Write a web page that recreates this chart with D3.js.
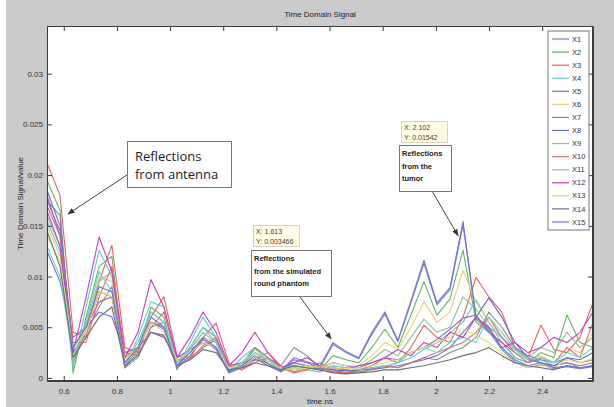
<!DOCTYPE html>
<html>
<head>
<meta charset="utf-8">
<script src="https://cdn.jsdelivr.net/npm/d3@7"></script>
<style>
  body { margin: 0; background: #ffffff; }
  svg { display: block; }
  text { font-family: "Liberation Sans", Arial, sans-serif; }
</style>
</head>
<body>
<div id="chart"></div>
<script>

/*******************************/
/*            Data             */
/*******************************/
const times = [0.537, 0.586, 0.635, 0.684, 0.733, 0.781, 0.830, 0.879, 0.928, 0.977,
  1.026, 1.075, 1.124, 1.173, 1.221, 1.270, 1.319, 1.368, 1.417, 1.466,
  1.515, 1.564, 1.613, 1.662, 1.710, 1.759, 1.808, 1.857, 1.906, 1.955,
  2.004, 2.053, 2.102, 2.151, 2.199, 2.248, 2.297, 2.346, 2.395, 2.444,
  2.493, 2.542, 2.591];

const seriesNames = ["X1", "X2", "X3", "X4", "X5", "X6", "X7", "X8", "X9", "X10", "X11", "X12", "X13", "X14", "X15"];
const seriesColors = ["#7b7bd2", "#5cb85c", "#e06464", "#5ccccc", "#a060c8", "#e8cf78", "#8a8a8a",
  "#6a6ad8", "#8cc08c", "#e07070", "#66d0d8", "#c83cc8", "#dede66", "#6e6e6e", "#7070d8"];

const x1 = [0.0175, 0.0145, 0.0025, 0.0045, 0.0085, 0.0080, 0.0012, 0.0028, 0.0055, 0.0048, 0.0010, 0.0022, 0.0038, 0.0028, 0.0005, 0.0010, 0.0020, 0.0012, 0.0006, 0.0018, 0.0015, 0.0010, 0.0033, 0.0025, 0.0019, 0.0043, 0.0063, 0.0036, 0.0074, 0.0113, 0.0072, 0.0087, 0.0151, 0.0058, 0.0046, 0.0028, 0.0016, 0.0010, 0.0013, 0.0009, 0.0011, 0.0009, 0.0011];
const x2 = [0.0195, 0.0165, 0.0005, 0.0060, 0.0110, 0.0120, 0.0010, 0.0025, 0.0070, 0.0060, 0.0008, 0.0030, 0.0050, 0.0040, 0.0005, 0.0015, 0.0030, 0.0015, 0.0006, 0.0012, 0.0010, 0.0008, 0.0022, 0.0018, 0.0015, 0.0030, 0.0048, 0.0030, 0.0062, 0.0095, 0.0062, 0.0078, 0.0126, 0.0055, 0.0045, 0.0035, 0.0020, 0.0015, 0.0025, 0.0020, 0.0062, 0.0035, 0.0030];
const x3 = [0.0212, 0.0180, 0.0045, 0.0040, 0.0095, 0.0131, 0.0030, 0.0025, 0.0060, 0.0080, 0.0022, 0.0020, 0.0040, 0.0054, 0.0015, 0.0008, 0.0018, 0.0025, 0.0012, 0.0006, 0.0010, 0.0015, 0.0008, 0.0005, 0.0008, 0.0012, 0.0020, 0.0015, 0.0030, 0.0052, 0.0040, 0.0035, 0.0060, 0.0099, 0.0080, 0.0065, 0.0030, 0.0020, 0.0052, 0.0028, 0.0025, 0.0040, 0.0074];
const x4 = [0.0155, 0.0125, 0.0010, 0.0070, 0.0126, 0.0100, 0.0010, 0.0040, 0.0075, 0.0070, 0.0010, 0.0035, 0.0060, 0.0040, 0.0006, 0.0020, 0.0030, 0.0020, 0.0008, 0.0015, 0.0012, 0.0008, 0.0010, 0.0008, 0.0006, 0.0008, 0.0010, 0.0015, 0.0020, 0.0028, 0.0035, 0.0045, 0.0055, 0.0077, 0.0055, 0.0035, 0.0020, 0.0015, 0.0018, 0.0012, 0.0015, 0.0010, 0.0012];
const x5 = [0.0180, 0.0140, 0.0030, 0.0050, 0.0075, 0.0080, 0.0020, 0.0030, 0.0055, 0.0050, 0.0015, 0.0025, 0.0035, 0.0030, 0.0010, 0.0012, 0.0020, 0.0015, 0.0008, 0.0015, 0.0012, 0.0010, 0.0015, 0.0012, 0.0010, 0.0015, 0.0020, 0.0018, 0.0025, 0.0030, 0.0038, 0.0048, 0.0059, 0.0062, 0.0045, 0.0035, 0.0025, 0.0018, 0.0015, 0.0012, 0.0015, 0.0012, 0.0015];
const x6 = [0.0150, 0.0120, 0.0020, 0.0050, 0.0100, 0.0095, 0.0020, 0.0035, 0.0060, 0.0050, 0.0015, 0.0030, 0.0040, 0.0035, 0.0010, 0.0015, 0.0028, 0.0018, 0.0008, 0.0010, 0.0012, 0.0010, 0.0015, 0.0012, 0.0012, 0.0022, 0.0035, 0.0028, 0.0050, 0.0075, 0.0055, 0.0065, 0.0106, 0.0075, 0.0055, 0.0040, 0.0025, 0.0018, 0.0022, 0.0015, 0.0030, 0.0025, 0.0045];
const x7 = [0.0175, 0.0160, 0.0015, 0.0045, 0.0070, 0.0090, 0.0010, 0.0020, 0.0050, 0.0055, 0.0010, 0.0020, 0.0030, 0.0038, 0.0008, 0.0010, 0.0030, 0.0020, 0.0012, 0.0030, 0.0022, 0.0010, 0.0006, 0.0005, 0.0008, 0.0010, 0.0012, 0.0010, 0.0015, 0.0020, 0.0018, 0.0025, 0.0030, 0.0040, 0.0065, 0.0050, 0.0030, 0.0022, 0.0018, 0.0015, 0.0020, 0.0015, 0.0018];
const x8 = [0.0125, 0.0095, 0.0040, 0.0050, 0.0065, 0.0060, 0.0025, 0.0030, 0.0045, 0.0040, 0.0020, 0.0028, 0.0035, 0.0030, 0.0012, 0.0015, 0.0018, 0.0015, 0.0010, 0.0012, 0.0010, 0.0009, 0.0008, 0.0007, 0.0008, 0.0009, 0.0010, 0.0012, 0.0015, 0.0018, 0.0022, 0.0030, 0.0045, 0.0060, 0.0079, 0.0060, 0.0035, 0.0020, 0.0015, 0.0012, 0.0020, 0.0018, 0.0025];
const x9 = [0.0160, 0.0130, 0.0015, 0.0055, 0.0095, 0.0105, 0.0015, 0.0030, 0.0065, 0.0055, 0.0012, 0.0028, 0.0045, 0.0035, 0.0008, 0.0012, 0.0025, 0.0015, 0.0008, 0.0010, 0.0008, 0.0006, 0.0012, 0.0010, 0.0010, 0.0018, 0.0028, 0.0022, 0.0040, 0.0058, 0.0045, 0.0050, 0.0080, 0.0068, 0.0050, 0.0040, 0.0028, 0.0020, 0.0030, 0.0025, 0.0045, 0.0030, 0.0040];
const x10 = [0.0170, 0.0140, 0.0035, 0.0035, 0.0080, 0.0110, 0.0025, 0.0022, 0.0050, 0.0065, 0.0018, 0.0018, 0.0032, 0.0040, 0.0012, 0.0008, 0.0015, 0.0020, 0.0010, 0.0005, 0.0008, 0.0012, 0.0006, 0.0005, 0.0006, 0.0008, 0.0012, 0.0010, 0.0015, 0.0020, 0.0025, 0.0030, 0.0035, 0.0045, 0.0060, 0.0040, 0.0025, 0.0015, 0.0020, 0.0015, 0.0030, 0.0020, 0.0055];
const x11 = [0.0130, 0.0100, 0.0020, 0.0055, 0.0105, 0.0085, 0.0015, 0.0035, 0.0065, 0.0055, 0.0015, 0.0030, 0.0050, 0.0035, 0.0008, 0.0015, 0.0025, 0.0018, 0.0010, 0.0012, 0.0010, 0.0010, 0.0012, 0.0010, 0.0008, 0.0010, 0.0012, 0.0015, 0.0025, 0.0030, 0.0025, 0.0035, 0.0040, 0.0035, 0.0060, 0.0045, 0.0028, 0.0018, 0.0020, 0.0015, 0.0025, 0.0020, 0.0030];
const x12 = [0.0165, 0.0130, 0.0025, 0.0080, 0.0139, 0.0105, 0.0020, 0.0045, 0.0097, 0.0070, 0.0020, 0.0040, 0.0065, 0.0045, 0.0012, 0.0025, 0.0045, 0.0025, 0.0010, 0.0015, 0.0020, 0.0012, 0.0010, 0.0008, 0.0012, 0.0015, 0.0020, 0.0028, 0.0022, 0.0035, 0.0030, 0.0045, 0.0040, 0.0060, 0.0050, 0.0030, 0.0035, 0.0025, 0.0030, 0.0040, 0.0035, 0.0045, 0.0065];
const x13 = [0.0140, 0.0115, 0.0030, 0.0045, 0.0085, 0.0080, 0.0018, 0.0030, 0.0055, 0.0045, 0.0018, 0.0025, 0.0035, 0.0030, 0.0010, 0.0012, 0.0020, 0.0015, 0.0010, 0.0008, 0.0010, 0.0012, 0.0010, 0.0009, 0.0010, 0.0012, 0.0015, 0.0018, 0.0025, 0.0030, 0.0035, 0.0040, 0.0048, 0.0042, 0.0035, 0.0025, 0.0015, 0.0010, 0.0012, 0.0010, 0.0018, 0.0015, 0.0020];
const x14 = [0.0145, 0.0110, 0.0020, 0.0040, 0.0060, 0.0070, 0.0012, 0.0022, 0.0045, 0.0042, 0.0012, 0.0018, 0.0028, 0.0025, 0.0008, 0.0010, 0.0015, 0.0012, 0.0008, 0.0012, 0.0010, 0.0008, 0.0005, 0.0004, 0.0005, 0.0006, 0.0008, 0.0008, 0.0010, 0.0012, 0.0015, 0.0018, 0.0022, 0.0025, 0.0030, 0.0022, 0.0015, 0.0012, 0.0010, 0.0008, 0.0012, 0.0010, 0.0012];
const x15 = [0.0185, 0.0150, 0.0030, 0.0050, 0.0090, 0.0085, 0.0015, 0.0030, 0.0060, 0.0050, 0.0012, 0.0025, 0.0040, 0.0030, 0.0006, 0.0012, 0.0022, 0.0014, 0.0007, 0.0020, 0.0016, 0.0012, 0.003466, 0.0026, 0.0020, 0.0045, 0.0065, 0.0037, 0.0076, 0.0116, 0.0074, 0.0089, 0.01542, 0.0060, 0.0048, 0.0030, 0.0018, 0.0012, 0.0015, 0.0010, 0.0012, 0.0010, 0.0012];

const xTicks = [0.6, 0.8, 1, 1.2, 1.4, 1.6, 1.8, 2, 2.2, 2.4];
const yTicks = [0, 0.005, 0.01, 0.015, 0.02, 0.025, 0.03];

const dataTips = [
  {x: 1.613, y: 0.003466, label: ["X: 1.613", "Y: 0.003466"]},
  {x: 2.102, y: 0.01542, label: ["X: 2.102", "Y: 0.01542"]}
];

/*******************************/
/*    Declare the constants    */
/*******************************/
const width = 614;
const height = 407;
const plot = {left: 47, right: 593, top: 26, bottom: 381};

const series = [x1, x2, x3, x4, x5, x6, x7, x8, x9, x10, x11, x12, x13, x14, x15]
  .map((values, i) => ({name: seriesNames[i], color: seriesColors[i], values}));

/*******************************/
/*    Append the containers    */
/*******************************/
const svg = d3.select("#chart")
  .append("svg")
    .attr("width", width)
    .attr("height", height);

// grey figure background
svg.append("rect")
  .attr("x", 6).attr("y", 0)
  .attr("width", width - 6).attr("height", height)
  .attr("fill", "#cbcbcb");

// white axes area
svg.append("rect")
  .attr("x", plot.left).attr("y", plot.top)
  .attr("width", plot.right - plot.left).attr("height", plot.bottom - plot.top)
  .attr("fill", "#ffffff");

/****************************/
/*    Declare the scales    */
/****************************/
const xScale = d3.scaleLinear()
  .domain([times[0], times[times.length - 1]])
  .range([plot.left, plot.right]);

const yScale = d3.scaleLinear()
  .domain([-0.0003, 0.0347])
  .range([plot.bottom, plot.top]);

/****************************/
/*        The lines         */
/****************************/
const lineGenerator = d3.line()
  .x((d, i) => xScale(times[i]))
  .y(d => yScale(d));

const clip = svg.append("clipPath").attr("id", "plot-clip")
  .append("rect")
    .attr("x", plot.left).attr("y", plot.top)
    .attr("width", plot.right - plot.left).attr("height", plot.bottom - plot.top);

svg.append("g")
    .attr("clip-path", "url(#plot-clip)")
  .selectAll("path")
  .data(series)
  .join("path")
    .attr("d", d => lineGenerator(d.values))
    .attr("fill", "none")
    .attr("stroke", d => d.color)
    .attr("stroke-width", 1.1)
    .attr("stroke-linejoin", "round");

/****************************/
/*          Axes            */
/****************************/
const axisColor = "#3c3c3c";
const fmt = d => String(d);

const bottomAxis = d3.axisBottom(xScale).tickValues(xTicks).tickFormat(fmt).tickSizeInner(-5).tickSizeOuter(0).tickPadding(7);
const topAxis = d3.axisTop(xScale).tickValues(xTicks).tickFormat("").tickSizeInner(-5).tickSizeOuter(0);
const leftAxis = d3.axisLeft(yScale).tickValues(yTicks).tickFormat(fmt).tickSizeInner(-5).tickSizeOuter(0).tickPadding(4);
const rightAxis = d3.axisRight(yScale).tickValues(yTicks).tickFormat("").tickSizeInner(-5).tickSizeOuter(0);

const axes = [
  {axis: bottomAxis, t: `translate(0, ${plot.bottom})`},
  {axis: topAxis, t: `translate(0, ${plot.top})`},
  {axis: leftAxis, t: `translate(${plot.left}, 0)`},
  {axis: rightAxis, t: `translate(${plot.right}, 0)`}
];
axes.forEach(a => {
  const g = svg.append("g")
    .attr("transform", a.t)
    .call(a.axis);
  g.select(".domain").attr("stroke", axisColor);
  g.selectAll(".tick line").attr("stroke", axisColor);
  g.selectAll(".tick text")
    .attr("fill", "#333")
    .style("font-size", "8px")
    .style("font-family", "'Liberation Sans Narrow', 'Liberation Sans', sans-serif");
});

// box frame
svg.append("rect")
  .attr("x", plot.left + 0.5).attr("y", plot.top + 0.5)
  .attr("width", plot.right - plot.left - 1).attr("height", plot.bottom - plot.top - 1)
  .attr("fill", "none")
  .attr("stroke", axisColor);

// titles
svg.append("text")
  .text("Time Domain Signal")
  .attr("x", (plot.left + plot.right) / 2)
  .attr("y", 17)
  .attr("text-anchor", "middle")
  .attr("fill", "#222")
  .style("font-size", "8px")
  .style("font-family", "'Liberation Sans Narrow', 'Liberation Sans', sans-serif");

svg.append("text")
  .text("time.ns")
  .attr("x", (plot.left + plot.right) / 2)
  .attr("y", 404)
  .attr("text-anchor", "middle")
  .attr("fill", "#222")
  .style("font-size", "8px")
  .style("font-family", "'Liberation Sans Narrow', 'Liberation Sans', sans-serif");

svg.append("text")
  .text("Time Domain Signal/value")
  .attr("transform", `translate(23, ${(plot.top + plot.bottom) / 2}) rotate(-90)`)
  .attr("text-anchor", "middle")
  .attr("fill", "#222")
  .style("font-size", "8px")
  .style("font-family", "'Liberation Sans Narrow', 'Liberation Sans', sans-serif");

/****************************/
/*          Legend          */
/****************************/
const legend = svg.append("g").attr("transform", "translate(548, 31)");
legend.append("rect")
  .attr("width", 41).attr("height", 199)
  .attr("fill", "#ffffff")
  .attr("stroke", "#777");
const legendRow = legend.selectAll(".row")
  .data(series)
  .join("g")
    .attr("class", "row")
    .attr("transform", (d, i) => `translate(0, ${8 + i * 13.07})`);
legendRow.append("line")
  .attr("x1", 4).attr("x2", 21)
  .attr("stroke", d => d.color)
  .attr("stroke-width", 1.2);
legendRow.append("text")
  .text(d => d.name)
  .attr("x", 24)
  .attr("dy", "0.35em")
  .attr("fill", "#333")
  .style("font-size", "7.5px")
  .style("font-family", "'Liberation Sans Narrow', 'Liberation Sans', sans-serif");

/****************************/
/*       Annotations        */
/****************************/
svg.append("defs").append("marker")
  .attr("id", "arrow")
  .attr("viewBox", "0 0 10 10")
  .attr("refX", 9).attr("refY", 5)
  .attr("markerWidth", 7).attr("markerHeight", 7)
  .attr("orient", "auto")
  .append("path")
    .attr("d", "M0,1 L10,5 L0,9 Z")
    .attr("fill", "#333");

const callouts = [
  {box: [127, 141, 104, 46], lines: ["Reflections", "from antenna"], size: 13, lh: 18, first: 20, font: "'Open Sans', sans-serif", weight: 400,
    from: [127, 175], to: [68, 214]},
  {box: [251, 250, 80, 46], lines: ["Reflections", "from the simulated", "round phantom"], size: 7.5, lh: 12.5, first: 11, font: "'Liberation Sans', sans-serif", weight: 700,
    from: [300, 297], to: [xScale(dataTips[0].x) - 2, yScale(dataTips[0].y) - 4]},
  {box: [399, 145, 52, 46], lines: ["Reflections", "from the", "tumor"], size: 7.5, lh: 12.5, first: 11, font: "'Liberation Sans', sans-serif", weight: 700,
    from: [432, 191], to: [xScale(dataTips[1].x) - 5, yScale(dataTips[1].y) + 14]}
];

callouts.forEach(c => {
  svg.append("line")
    .attr("x1", c.from[0]).attr("y1", c.from[1])
    .attr("x2", c.to[0]).attr("y2", c.to[1])
    .attr("stroke", "#444")
    .attr("stroke-width", 1)
    .attr("marker-end", "url(#arrow)");
  svg.append("rect")
    .attr("x", c.box[0] + 0.5).attr("y", c.box[1] + 0.5)
    .attr("width", c.box[2]).attr("height", c.box[3])
    .attr("fill", "#ffffff")
    .attr("stroke", "#777");
  c.lines.forEach((l, i) => {
    svg.append("text")
      .text(l)
      .attr("x", c.box[0] + (c.size > 10 ? 8 : 3))
      .attr("y", c.box[1] + c.first + i * c.lh)
      .attr("fill", "#222")
      .style("font-size", `${c.size}px`)
      .style("font-weight", c.weight)
      .style("font-family", c.font);
  });
});

// data tips
const tipBoxes = [[253, 225], [401, 121]];
dataTips.forEach((d, i) => {
  const [bx, by] = tipBoxes[i];
  svg.append("rect")
    .attr("x", bx + 0.5).attr("y", by + 0.5)
    .attr("width", 46).attr("height", 21)
    .attr("fill", "#fdfbe3")
    .attr("stroke", "#d8d4b8");
  d.label.forEach((l, j) => {
    svg.append("text")
      .text(l)
      .attr("x", bx + 3)
      .attr("y", by + 8.5 + j * 10)
      .attr("fill", "#444")
      .style("font-size", "7px")
      .style("font-family", "'Liberation Sans', sans-serif");
  });
});
</script>
</body>
</html>
